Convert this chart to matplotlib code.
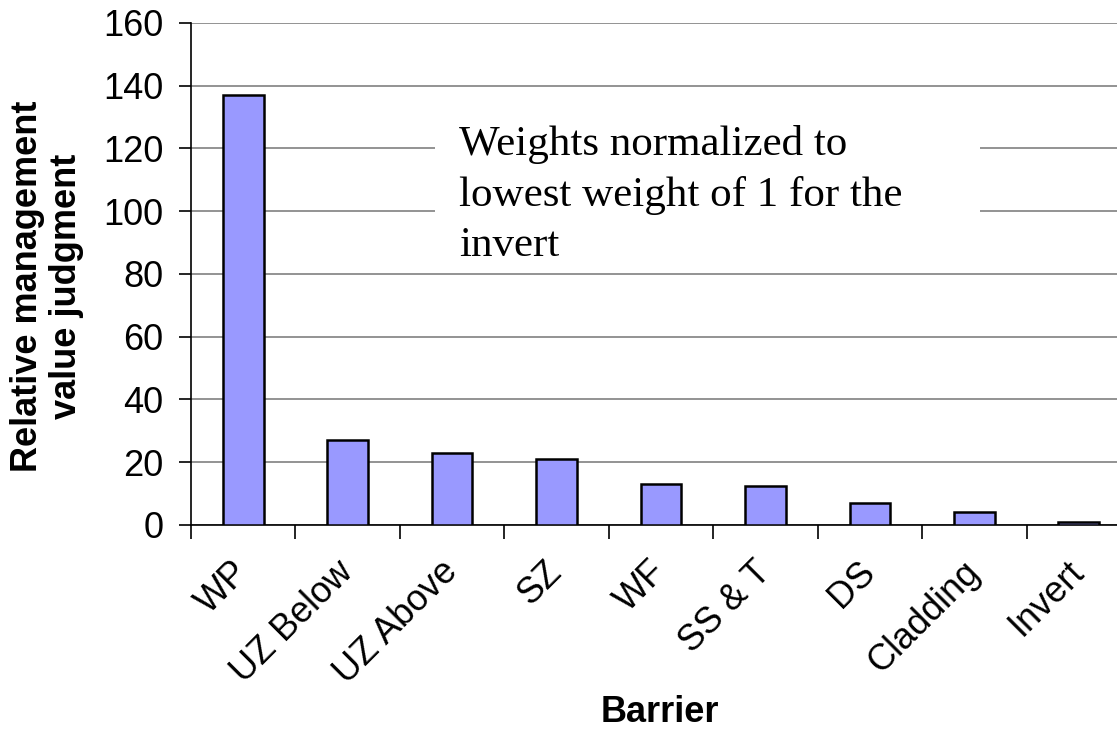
import matplotlib
matplotlib.use("Agg")
import matplotlib.pyplot as plt
from matplotlib.patches import Rectangle
from matplotlib.transforms import ScaledTranslation
import numpy as np

barriers = ["WP", "UZ Below", "UZ Above", "SZ", "WF", "SS & T", "DS", "Cladding", "Invert"]
weights = [137, 27, 23, 21, 13, 12.5, 7, 4, 1]
y_ticks = [0, 20, 40, 60, 80, 100, 120, 140, 160]

W, H = 1117, 729
fig = plt.figure(figsize=(W / 100, H / 100), dpi=100)
fig.patch.set_facecolor("white")

# plot area (runs past the right edge of the canvas)
left, bottom, top, width = 191, 525, 23, 940
ax = fig.add_axes([left / W, (H - bottom) / H, width / W, (bottom - top) / H])

x = np.arange(len(barriers))
ax.bar(x, weights, width=0.39, color="#9999FF", edgecolor="black",
       linewidth=1.8, zorder=3)

ax.set_xlim(-0.5, len(barriers) - 0.5)
ax.set_ylim(0, 160)
ax.set_yticks(y_ticks)
ax.set_yticklabels([str(v) for v in y_ticks], fontsize=26,
                   fontfamily="Liberation Sans")
ax.yaxis.grid(True, color="#808080", linewidth=1.2, zorder=0)
ax.set_axisbelow(True)

ax.set_xticks(x)
ax.set_xticklabels(barriers, rotation=45, ha="right", va="center",
                   fontsize=26, fontfamily="Liberation Sans",
                   rotation_mode="anchor")
shift = ScaledTranslation(-6 / 100, 3 / 100, fig.dpi_scale_trans)
for lbl in ax.get_xticklabels():
    lbl.set_transform(lbl.get_transform() + shift)
ax.tick_params(axis="x", which="major", length=0, pad=30)
ax.set_xticks(np.arange(-0.5, len(barriers)), minor=True)
ax.tick_params(axis="x", which="minor", length=10, width=1.2, color="black",
               direction="out")
ax.tick_params(axis="y", length=9, width=1.2, color="black", pad=11,
               direction="out")

for side in ("top", "right"):
    ax.spines[side].set_visible(False)
for side in ("left", "bottom"):
    ax.spines[side].set_color("black")
    ax.spines[side].set_linewidth(1.2)

fig.text(47 / W, (H - 286) / H, "Relative management\nvalue judgment",
         fontsize=26, fontweight="bold", fontfamily="Liberation Sans",
         rotation=90, ha="center", va="center", linespacing=1.15,
         multialignment="center")
fig.text(660 / W, (H - 713) / H, "Barrier", fontsize=26, fontweight="bold",
         fontfamily="Liberation Sans", ha="center", va="center")

# annotation box that masks the gridlines behind it
bx0, bx1, by0, by1 = 435, 980, 108, 270
fig.patches.append(Rectangle((bx0 / W, (H - by1) / H), (bx1 - bx0) / W,
                             (by1 - by0) / H, transform=fig.transFigure,
                             facecolor="white", edgecolor="none", zorder=5))
fig.text(459 / W, (H - 125) / H,
         "Weights normalized to\nlowest weight of 1 for the\ninvert",
         fontsize=31, fontfamily="Liberation Serif", ha="left", va="top",
         linespacing=1.4, zorder=6)

fig.savefig("out.png", dpi=100, facecolor="white")
